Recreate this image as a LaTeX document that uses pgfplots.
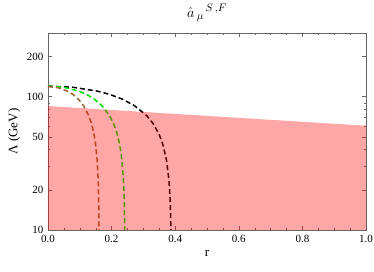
\documentclass[border=0pt]{standalone}
\usepackage{fontspec}
\setmainfont{Liberation Serif}
\usepackage{pgfplots}
\pgfplotsset{compat=1.18}
\definecolor{mmabrown}{rgb}{0.6,0.4,0.2}
\begin{document}
\begin{tikzpicture}
\begin{axis}[
  scale only axis, width=318pt, height=197pt,
  xmin=0, xmax=1, ymode=log, ymin=10, ymax=300,
  xtick={0,0.2,0.4,0.6,0.8,1.0},
  xticklabels={0.0,0.2,0.4,0.6,0.8,1.0},
  minor x tick num=3,
  ytick={10,20,50,100,200},
  yticklabels={10,20,50,100,200},
  minor ytick={30,40,60,70,80,90,300},
  tick align=inside,
  major tick length=4pt, minor tick length=2pt,
  axis line style={gray!80!black}, every tick/.style={gray!80!black},
  tick label style={font=\fontsize{11}{13}\selectfont},
  xticklabel style={yshift=-1.5pt},
  yticklabel style={xshift=-1pt},
  /pgf/number format/assume math mode=true,
  xlabel={r}, ylabel={Λ (GeV)},
  label style={font=\fontsize{13}{15}\selectfont},
  xlabel style={yshift=-1pt},
  title={$\hat{a}\,{}_{\mu}{}^{\,S\,,F}$},
  title style={font=\fontsize{15}{17}\selectfont, yshift=2pt},
  clip=true,
]
\addplot[black, line width=1.5pt, dash pattern=on 5pt off 3pt] coordinates {
(0,120) (0.0776,117.6) (0.1552,110.0) (0.194,103.9) (0.2328,96) (0.2716,85.7) (0.3104,72) (0.3298,63.2) (0.3492,52.3) (0.3608,44.1) (0.3725,33.6) (0.3802,23.9) (0.3841,16.9) (0.3866,10)};
\addplot[green!90!black, line width=1.5pt, dash pattern=on 5pt off 3pt] coordinates {
(0,120) (0.0484,117.6) (0.0968,110.0) (0.121,103.9) (0.1452,96) (0.1694,85.7) (0.1936,72) (0.2057,63.2) (0.2178,52.3) (0.2251,44.1) (0.2323,33.6) (0.2372,23.9) (0.2396,16.9) (0.2412,10)};
\addplot[mmabrown, line width=1.5pt, dash pattern=on 5pt off 3pt] coordinates {
(0,119) (0.0322,116.6) (0.0644,109.0) (0.0805,103) (0.0966,95) (0.1127,85) (0.1288,71.4) (0.1369,62.7) (0.1449,51.9) (0.1497,43.8) (0.1546,33.3) (0.1578,23.7) (0.1594,16.8) (0.1604,10)};
\addplot[draw=none, fill=red, fill opacity=0.35] coordinates {
(0,10) (0,85) (1,60.5) (1,10)} -- cycle;
\end{axis}
\pgfresetboundingbox
\path (-48pt,-42pt) rectangle (326pt,230pt);
\end{tikzpicture}
\end{document}
